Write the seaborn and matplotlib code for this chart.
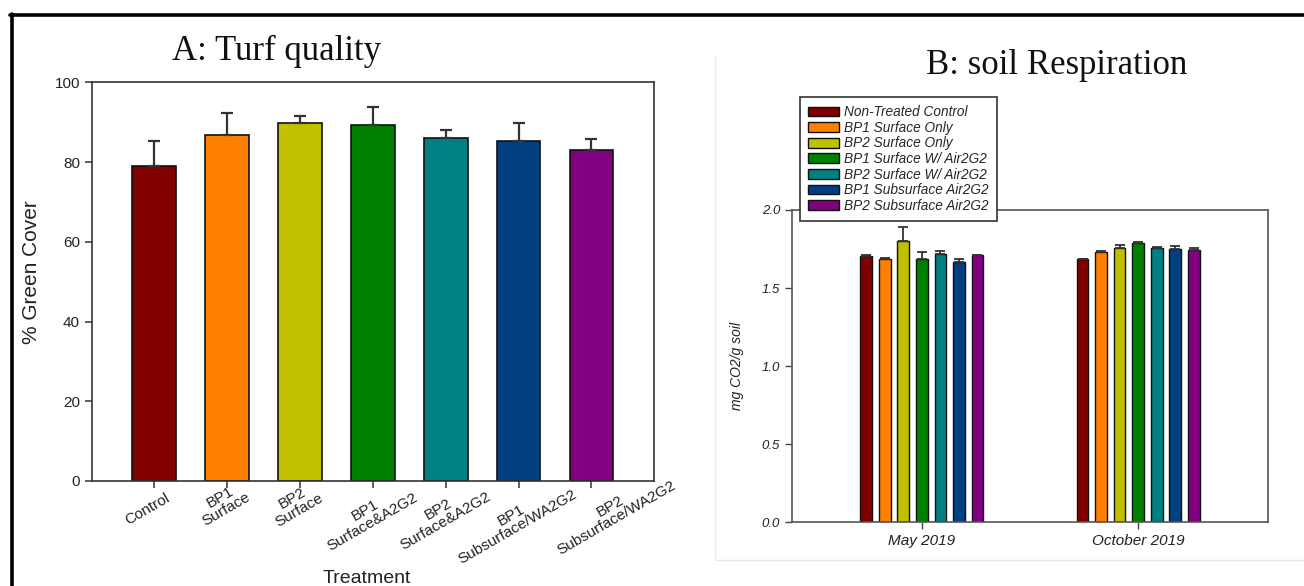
import matplotlib
matplotlib.use("Agg")
import matplotlib.pyplot as plt
from matplotlib.lines import Line2D
from matplotlib.container import BarContainer
import seaborn as sns
import numpy as np
import pandas as pd

# ---------------- data ----------------
treatments_a = ["Control", "BP1\nSurface", "BP2\nSurface", "BP1\nSurface&A2G2",
                "BP2\nSurface&A2G2", "BP1\nSubsurface/WA2G2", "BP2\nSubsurface/WA2G2"]
green_cover = [79.0, 86.9, 89.7, 89.4, 86.0, 85.3, 83.0]
green_cover_err = [6.3, 5.3, 1.8, 4.3, 2.1, 4.6, 2.9]
yticks_a = [0, 20, 40, 60, 80, 100]

months = ["May 2019", "October 2019"]
treatments_b = ["Non-Treated Control", "BP1 Surface Only", "BP2 Surface Only",
                "BP1 Surface W/ Air2G2", "BP2 Surface W/ Air2G2",
                "BP1 Subsurface Air2G2", "BP2 Subsurface Air2G2"]
resp_may = [1.705, 1.684, 1.803, 1.684, 1.716, 1.667, 1.710]
resp_may_err = [0.007, 0.006, 0.086, 0.045, 0.021, 0.021, 0.004]
resp_oct = [1.684, 1.733, 1.759, 1.787, 1.757, 1.750, 1.744]
resp_oct_err = [0.003, 0.004, 0.017, 0.008, 0.004, 0.018, 0.011]
yticks_b = [0.0, 0.5, 1.0, 1.5, 2.0]

colors = ["#800000", "#FF8000", "#C0C000", "#008000", "#008080", "#004080", "#800080"]

# ---------------- style ----------------
sns.set_theme(style="white")
plt.rcParams["font.family"] = ["Liberation Sans", "DejaVu Sans"]
plt.rcParams["axes.linewidth"] = 1.2

W, H = 1304, 586
fig = plt.figure(figsize=(W / 100, H / 100), dpi=100)
fig.patch.set_facecolor("white")

def fx(px):
    return px / W

def fy(py):
    return 1 - py / H

# ---------------- panel A ----------------
axA = fig.add_axes([fx(91.7), fy(481), fx(654) - fx(91.7), fy(82.3) - fy(481)])
dfA = pd.DataFrame({"Treatment": treatments_a, "cover": green_cover})
sns.barplot(data=dfA, x="Treatment", y="cover", hue="Treatment",
            palette=colors, width=0.6, errorbar=None, legend=False,
            edgecolor="#111111", linewidth=1.2, saturation=1, ax=axA)
xs = [p.get_x() + p.get_width() / 2 for p in axA.patches]
hs = [p.get_height() for p in axA.patches]
axA.errorbar(xs, hs, yerr=[np.zeros(len(hs)), green_cover_err], fmt="none",
             ecolor="#333333", elinewidth=1.6, capsize=4.5, capthick=1.6, zorder=5)
axA.set_ylim(0, 100)
axA.set_xlim(-0.86, 6.86)
axA.set_yticks(yticks_a)
axA.set_yticklabels([str(v) for v in yticks_a], fontsize=11, color="#222222")
axA.set_xticks(range(len(treatments_a)))
axA.set_xticklabels([""] * len(treatments_a))
xaxis_tr = axA.get_xaxis_transform()
# label offsets from the tick (points)
label_offsets = [(-5.0, -7.1), (-2.9, 2.2), (-2.9, 1.4), (-2.9, 1.4),
                 (-2.9, 2.2), (-2.9, 3.6), (16.0, 10.0)]
for i, t in enumerate(treatments_a):
    axA.annotate(t, xy=(i, 0), xycoords=xaxis_tr, xytext=label_offsets[i],
                 textcoords="offset points", rotation=30, ha="center", va="top",
                 multialignment="center", fontsize=11, color="#222222",
                 linespacing=0.95, annotation_clip=False)
axA.tick_params(axis="both", which="both", direction="out", length=5, width=1.1,
                color="#333333", left=True, bottom=True)
axA.set_ylabel("% Green Cover", fontsize=15, color="#222222")
axA.yaxis.set_label_coords(-0.09, 0.525)
axA.set_xlabel("Treatment", fontsize=14, color="#222222", va="top")
axA.xaxis.set_label_coords(0.49, -0.222)
for s in axA.spines.values():
    s.set_color("#333333")
    s.set_linewidth(1.2)
fig.text(fx(277), fy(51), "A: Turf quality", family=["Liberation Serif", "DejaVu Serif"],
         fontsize=25, ha="center", va="center", color="#111111")

# ---------------- panel B ----------------
axB = fig.add_axes([fx(792), fy(522.3), fx(1268) - fx(792), fy(210) - fy(522.3)])
rows = []
for m, vals in zip(months, [resp_may, resp_oct]):
    for t, v in zip(treatments_b, vals):
        rows.append({"Month": m, "Treatment": t, "resp": v})
dfB = pd.DataFrame(rows)
sns.barplot(data=dfB, x="Month", y="resp", hue="Treatment", hue_order=treatments_b,
            order=months, palette=colors, width=0.6, gap=0.37, errorbar=None,
            edgecolor="#111111", linewidth=1.0, saturation=1, ax=axB)
errs = [resp_may_err, resp_oct_err]
bar_conts = [c for c in axB.containers if isinstance(c, BarContainer)]
for ci, cont in enumerate(bar_conts):
    bx = [p.get_x() + p.get_width() / 2 for p in cont.patches]
    bh = [p.get_height() for p in cont.patches]
    be = [errs[j][ci] for j in range(len(months))]
    axB.errorbar(bx, bh, yerr=[np.zeros(len(bh)), be], fmt="none",
                 ecolor="#333333", elinewidth=1.3, capsize=3.3, capthick=1.3, zorder=5)
axB.set_xlim(-0.6, 1.6)
axB.set_ylim(0, 2.0)
axB.set_yticks(yticks_b)
axB.set_yticklabels([f"{v:.1f}" for v in yticks_b], fontsize=9.5, style="italic",
                    color="#222222")
axB.set_xticks(range(len(months)))
axB.set_xticklabels(months, fontsize=11, style="italic", color="#222222")
axB.tick_params(axis="both", which="both", direction="out", length=5, width=1.0,
                color="#444444", left=True, bottom=True)
axB.set_ylabel("mg CO2/g soil", fontsize=10, style="italic", color="#222222", labelpad=13)
axB.set_xlabel("")
for s in axB.spines.values():
    s.set_color("#555555")
    s.set_linewidth(1.2)
handles = [cont.patches[0] for cont in bar_conts]
leg = axB.legend(handles, treatments_b, loc="upper left",
                 bbox_to_anchor=(fx(800), fy(97)), bbox_transform=fig.transFigure,
                 prop={"size": 9.8, "style": "italic"}, frameon=True, fancybox=False,
                 edgecolor="#333333", framealpha=1, handlelength=2.3, handleheight=0.72,
                 handletextpad=0.35, labelspacing=0.12, borderpad=0.6, borderaxespad=0)
leg.get_frame().set_linewidth(1.2)
fig.text(fx(1057), fy(65), "B: soil Respiration", family=["Liberation Serif", "DejaVu Serif"],
         fontsize=25, ha="center", va="center", color="#111111")

# faint panel border of B
fig.add_artist(Line2D([fx(715), fx(1304)], [fy(560), fy(560)], color="#e6e6e6", lw=1))
fig.add_artist(Line2D([fx(715), fx(715)], [fy(55), fy(560)], color="#eeeeee", lw=1))

# thick black frame
fig.add_artist(Line2D([fx(10), fx(1304)], [fy(15), fy(15)], color="black", lw=2.6))
fig.add_artist(Line2D([fx(11.5), fx(11.5)], [fy(14), fy(586)], color="black", lw=2.6))

fig.savefig("out.png", dpi=100, facecolor="white")
